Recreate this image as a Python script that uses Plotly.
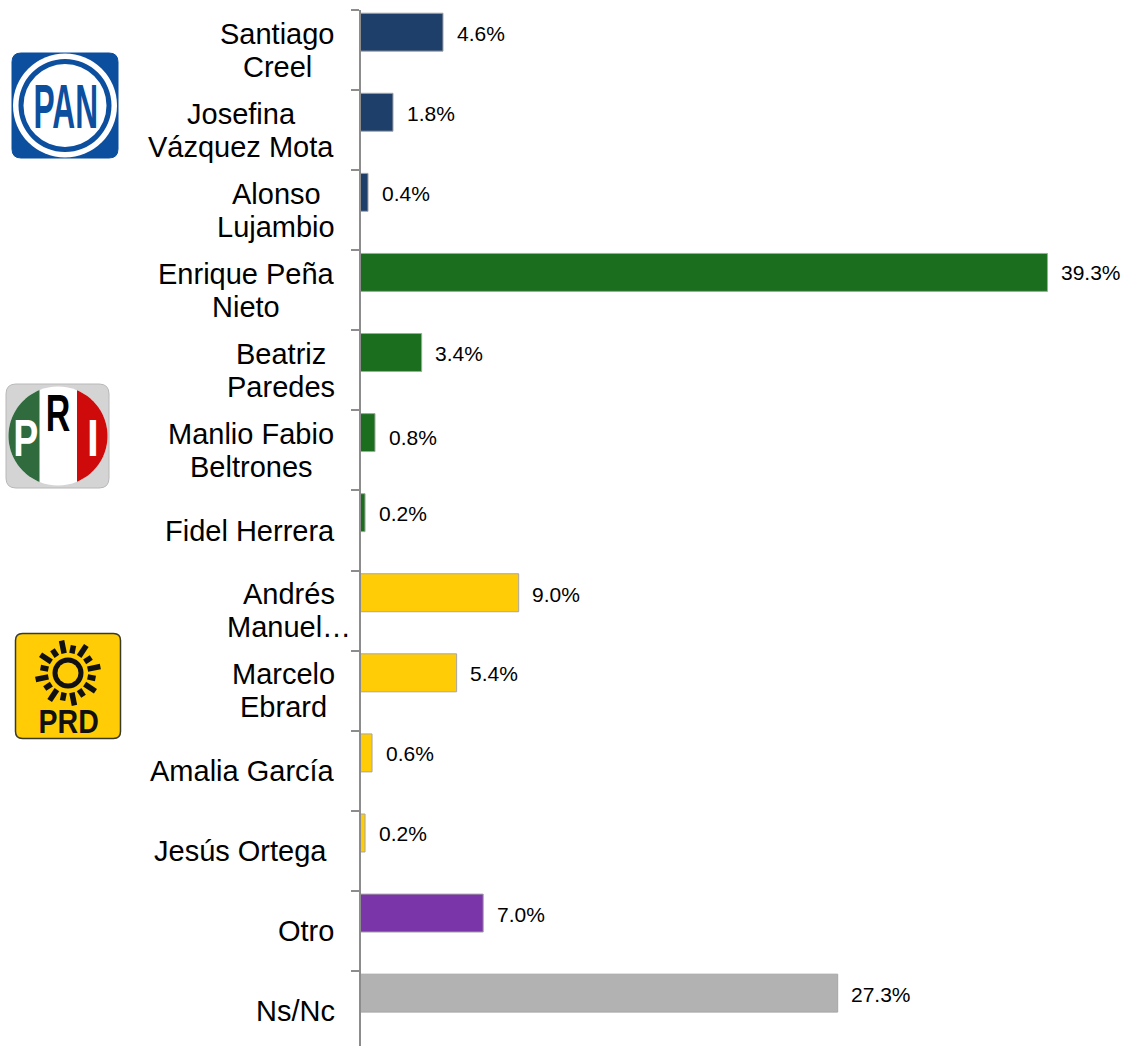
import json
import numpy as np
import plotly.graph_objects as go

W, H = 1124, 1046

# ---- data ----
candidates = [
    ["Santiago", "Creel"], ["Josefina", "Vázquez Mota"], ["Alonso", "Lujambio"],
    ["Enrique Peña", "Nieto"], ["Beatriz", "Paredes"], ["Manlio Fabio", "Beltrones"],
    ["Fidel Herrera"], ["Andrés", "Manuel…"], ["Marcelo", "Ebrard"],
    ["Amalia García"], ["Jesús Ortega"], ["Otro"], ["Ns/Nc"],
]
shares = [4.72, 1.86, 0.43, 39.3, 3.5, 0.83, 0.26, 9.05, 5.5, 0.66, 0.26, 7.02, 27.3]
share_labels = ["4.6%", "1.8%", "0.4%", "39.3%", "3.4%", "0.8%", "0.2%",
                "9.0%", "5.4%", "0.6%", "0.2%", "7.0%", "27.3%"]
colors = ["#1F3F6B"] * 3 + ["#1A6E1E"] * 4 + ["#FFCC05"] * 4 + ["#7A35A8", "#B2B2B2"]

# ---- layout constants ----
label_centers = [277, 241, 276, 246, 281, 251, 250, 288.5, 283, 242, 240, 306, 295]
label_dy = [1, 1, 1, 0, 1, 5, 1, 2, 1, 1, 1, 1, 1]
AX_X, PLOT_TOP, BAND, PX_PER_UNIT = 360.5, 10, 80.08, 17.48
FONT = "Liberation Sans, Arial, sans-serif"


def px(x):
    return x / W


def py(y):
    return 1 - y / H


def rrect(x0, y0, x1, y1, r, fill, line=None, lw=1):
    X0, X1, Y0, Y1 = px(x0), px(x1), py(y0), py(y1)
    rx, ry = r / W, r / H
    p = (f"M {X0+rx} {Y0} L {X1-rx} {Y0} Q {X1} {Y0} {X1} {Y0-ry} L {X1} {Y1+ry} "
         f"Q {X1} {Y1} {X1-rx} {Y1} L {X0+rx} {Y1} Q {X0} {Y1} {X0} {Y1+ry} "
         f"L {X0} {Y0-ry} Q {X0} {Y0} {X0+rx} {Y0} Z")
    return dict(type="path", xref="paper", yref="paper", path=p, fillcolor=fill,
                line=dict(color=line or fill, width=lw))


def circle(cx, cy, r, fill):
    return dict(type="circle", xref="paper", yref="paper",
                x0=px(cx - r), x1=px(cx + r), y0=py(cy + r), y1=py(cy - r),
                fillcolor=fill, line=dict(width=0))


def segment(cx, cy, r, x_cut, side, fill):
    a = np.arccos((x_cut - cx) / r)
    if side == "left":
        t = np.linspace(a, 2 * np.pi - a, 60)
    else:
        t = np.linspace(-a, a, 60)
    pts = [(px(cx + r * np.cos(v)), py(cy + r * np.sin(v))) for v in t]
    p = "M " + " L ".join(f"{x} {y}" for x, y in pts) + " Z"
    return dict(type="path", xref="paper", yref="paper", path=p, fillcolor=fill, line=dict(width=0))


shapes = []
# PAN
shapes += [rrect(12, 53, 118, 158, 9, "#0B4F9E"),
           circle(65, 105.5, 52, "#FFFFFF"), circle(65, 105.5, 46.5, "#0B4F9E"),
           circle(65, 105.5, 41.5, "#FFFFFF")]
# PRI
shapes += [rrect(6, 384, 109, 488, 10, "#D4D4D4", "#B8B8B8", 1),
           circle(58, 436, 49.5, "#FFFFFF"),
           segment(58, 436, 49.5, 39.5, "left", "#2F6B3C"),
           segment(58, 436, 49.5, 77, "right", "#CF0A0A")]
# PRD
shapes.append(rrect(15.5, 633.5, 120.5, 738.5, 7, "#FFCC05", "#3A3A2A", 1.5))
CX, CY = 68, 673
for k in range(16):
    t = k * np.pi / 8 + np.pi / 16
    r1, r2 = (20, 33) if k % 2 else (20, 28)
    shapes.append(dict(type="line", xref="paper", yref="paper",
                       x0=px(CX + r1 * np.cos(t)), y0=py(CY + r1 * np.sin(t)),
                       x1=px(CX + r2 * np.cos(t)), y1=py(CY + r2 * np.sin(t)),
                       line=dict(color="#111111", width=5.5)))
shapes += [circle(CX, CY, 15.5, "#111111"), circle(CX, CY, 10.5, "#FFCC05")]

annotations = []
# candidate names, one annotation per line for the tight line spacing
for i, lines in enumerate(candidates):
    n = len(lines)
    for j, line in enumerate(lines):
        annotations.append(dict(
            x=px(label_centers[i]), xref="paper", y=i, yref="y", yshift=-(j - (n - 1) / 2) * 33,
            text=line, showarrow=False, xanchor="center", yanchor="middle",
            font=dict(family=FONT, size=29, color="#000000")))
# value labels
for i, (v, s) in enumerate(zip(shares, share_labels)):
    annotations.append(dict(
        x=v, y=i - 0.223, xref="x", yref="y", text=s, showarrow=False,
        xanchor="left", yanchor="middle", xshift=11.5, yshift=-label_dy[i],
        font=dict(family=FONT, size=21, color="#000000")))

# logo lettering: real text, squeezed to the condensed logo letterforms afterwards
logo_letters = []


def logo_text(x, y, s, size, color, sx, sy):
    annotations.append(dict(x=px(x), y=py(y), xref="paper", yref="paper", text=f"<b>{s}</b>",
                            showarrow=False, xanchor="center", yanchor="middle",
                            font=dict(family=FONT, size=size, color=color)))
    logo_letters.append([s, sx, sy])


logo_text(65.5, 105, "PAN", 44, "#0B4F9E", 0.72, 1.42)
logo_text(25, 438, "P", 50, "#FFFFFF", 0.75, 1.05)
logo_text(58, 413, "R", 50, "#000000", 0.68, 1.05)
logo_text(92.5, 438, "I", 50, "#FFFFFF", 0.85, 1.05)
logo_text(68, 721, "PRD", 30, "#111111", 0.95, 1.12)

fig = go.Figure(go.Bar(
    x=shares, y=list(range(len(shares))), orientation="h",
    offset=-0.46, width=0.474, showlegend=False,
    marker=dict(color=colors, line=dict(color="#A6A6A6", width=1)),
))

fig.update_layout(
    width=W, height=H, autosize=False,
    margin=dict(l=0, r=0, t=0, b=0, pad=0),
    paper_bgcolor="#FFFFFF", plot_bgcolor="#FFFFFF",
    shapes=shapes, annotations=annotations,
    font=dict(family=FONT),
    xaxis=dict(domain=[AX_X / W, 1], range=[0, (W - AX_X) / PX_PER_UNIT], visible=False, fixedrange=True),
    yaxis=dict(
        domain=[0, 1 - PLOT_TOP / H],
        range=[-0.5 + (H - PLOT_TOP) / BAND, -0.5],
        tickmode="array", tickvals=[i - 0.5 for i in range(len(shares))],
        ticktext=[""] * len(shares),
        ticks="outside", ticklen=8, tickwidth=1.5, tickcolor="#8C8C8C",
        showline=True, linecolor="#8C8C8C", linewidth=1.5, showgrid=False, zeroline=False,
        fixedrange=True,
    ),
)

post = """
document.body.style.margin='0';document.body.style.overflow='hidden';
var letters = %s;
function squeeze(){
  document.querySelectorAll('text.annotation-text').forEach(function(t){
    letters.forEach(function(l){
      if(t.textContent===l[0]){
        t.style.transformBox='fill-box';t.style.transformOrigin='center';
        t.style.transform='scale('+l[1]+','+l[2]+')';
      }
    });
  });
}
squeeze();setTimeout(squeeze,50);setTimeout(squeeze,300);
""" % json.dumps(logo_letters)

fig.write_html("out.html", config={"displayModeBar": False}, post_script=post)
